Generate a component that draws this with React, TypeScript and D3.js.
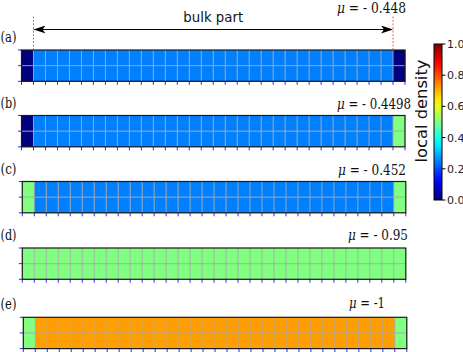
import * as d3 from 'd3';

const W = 463;
const H = 352;

// one row per panel: density in the left edge cell, the bulk cells, the right edge cell
const panelLabels = ['(a)', '(b)', '(c)', '(d)', '(e)'];
const muLabels = ['- 0.448', '- 0.4498', '- 0.452', '- 0.95', '-1'];
const leftEdge = [0.0, 0.0, 0.5, 0.5, 0.5];
const bulk = [0.25, 0.25, 0.25, 0.5, 0.72];
const rightEdge = [0.0, 0.5, 0.5, 0.5, 0.5];
const nCells = 32;
const nRows = 2;
const cbTicks = [0.0, 0.2, 0.4, 0.6, 0.8, 1.0];

// layout (px)
const panelTop = [50, 115.5, 181.5, 248, 317.3];
const panelLeft = [21.5, 21.5, 22.3, 22.3, 23.3];
const panelW = 383.5;
const panelH = 31.3;
const muX = [337, 337, 338, 348, 349];
const muY = [12.5, 109, 175, 240, 308];
const muW = [69, 74, 68, 60, 36];
const cb = { x: 434, w: 8, top: 44, bottom: 200 };

const SERIF = "'DejaVu Serif Condensed', 'DejaVu Serif', serif";
const SANS = "'DejaVu Sans', sans-serif";

// jet colormap
const clamp = (v: number) => Math.max(0, Math.min(1, v));
function jet(t: number) {
  const r = clamp(1.5 - Math.abs(4 * t - 3));
  const g = clamp(1.5 - Math.abs(4 * t - 2));
  const b = clamp(1.5 - Math.abs(4 * t - 1));
  return d3.rgb(r * 255, g * 255, b * 255).formatHex();
}

function cellValue(p: number, i: number) {
  if (i === 0) return leftEdge[p];
  if (i === nCells - 1) return rightEdge[p];
  return bulk[p];
}

function Panel({ p }: { p: number }) {
  const x = d3.scaleLinear().domain([0, nCells]).range([panelLeft[p], panelLeft[p] + panelW]);
  const y = d3.scaleLinear().domain([0, nRows]).range([panelTop[p], panelTop[p] + panelH]);
  const cells = d3.range(nRows).flatMap((r) => d3.range(nCells).map((i) => ({ r, i })));
  return (
    <g>
      {cells.map(({ r, i }) => (
        <rect
          key={`${r}-${i}`}
          x={x(i)}
          y={y(r)}
          width={x(i + 1) - x(i) + 0.3}
          height={y(r + 1) - y(r) + 0.3}
          fill={jet(cellValue(p, i))}
        />
      ))}
      {d3.range(1, nCells).map((i) => (
        <line key={`g${i}`} x1={x(i)} x2={x(i)} y1={y(0)} y2={y(nRows)} stroke="#a8a8a8" strokeOpacity={0.9} strokeWidth={1} />
      ))}
      <line x1={x(0)} x2={x(nCells)} y1={y(1)} y2={y(1)} stroke="#a8a8a8" strokeOpacity={0.9} />
      {d3.range(0, nCells + 1).map((i) => (
        <line key={`t${i}`} x1={x(i)} x2={x(i)} y1={y(nRows)} y2={y(nRows) + 3.5} stroke="#2b2bf0" strokeWidth={1} />
      ))}
      {d3.range(0, nRows + 1).map((r) => (
        <line key={`l${r}`} x1={x(0) - 3.5} x2={x(0)} y1={y(r)} y2={y(r)} stroke="#2b2bf0" strokeWidth={1} />
      ))}
      <rect x={x(0)} y={y(0)} width={panelW} height={panelH} fill="none" stroke="#1a1a1a" strokeWidth={1.2} />
      <text x={0.5} y={panelTop[p] - 8} textLength={16} lengthAdjust="spacingAndGlyphs" style={{ fontFamily: SERIF, fontSize: 14.5 }} fill="#111">
        {panelLabels[p]}
      </text>
      <text x={muX[p]} y={muY[p]} textLength={muW[p]} lengthAdjust="spacingAndGlyphs" style={{ fontFamily: SERIF, fontSize: 14.5 }} fill="#111">
        <tspan fontStyle="italic">μ</tspan>
        {` = ${muLabels[p]}`}
      </text>
    </g>
  );
}

function App() {
  const xa = d3.scaleLinear().domain([0, nCells]).range([panelLeft[0], panelLeft[0] + panelW]);
  const bulkL = xa(1);
  const bulkR = xa(nCells - 1);
  const arrowY = 29.5;
  const cbY = d3.scaleLinear().domain([0, 1]).range([cb.bottom, cb.top]);
  const stops = d3.range(0, 1.0001, 0.05);

  return (
    <svg width={W} height={H} style={{ position: 'absolute', left: 0, top: 0, background: '#fff' }}>
      <defs>
        <linearGradient id="jetGrad" x1="0" y1="1" x2="0" y2="0">
          {stops.map((s) => (
            <stop key={s} offset={s} stopColor={jet(s)} />
          ))}
        </linearGradient>
        <marker id="ah" viewBox="0 0 12 8" refX="11" refY="4" markerWidth="12" markerHeight="8" markerUnits="userSpaceOnUse" orient="auto-start-reverse">
          <path d="M0,0 L12,4 L0,8 L3,4 Z" fill="#000" />
        </marker>
      </defs>

      {panelLabels.map((_, p) => (
        <Panel key={p} p={p} />
      ))}

      {/* bulk part annotation */}
      {[bulkL, bulkR].map((xv, k) => (
        <line key={k} x1={xv} x2={xv} y1={16.5} y2={panelTop[0]} stroke="#ff3030" strokeOpacity={0.8} strokeDasharray="2,1.5" strokeWidth={1} />
      ))}
      <line x1={bulkL + 1} x2={bulkR - 1} y1={arrowY} y2={arrowY} stroke="#000" strokeWidth={1.1} markerStart="url(#ah)" markerEnd="url(#ah)" />
      <text x={(bulkL + bulkR) / 2} y={21.5} textAnchor="middle" fontFamily={SANS} fontSize={13.3} fill="#111">
        bulk part
      </text>

      {/* colorbar */}
      <rect x={cb.x} y={cb.top} width={cb.w} height={cb.bottom - cb.top} fill="url(#jetGrad)" stroke="#000" strokeWidth={1} />
      {cbTicks.map((t) => (
        <g key={t}>
          <line x1={cb.x + cb.w} x2={cb.x + cb.w + 3.5} y1={cbY(t)} y2={cbY(t)} stroke="#000" />
          <text x={cb.x + cb.w + 5} y={cbY(t) + 4} fontFamily={SANS} fontSize={11} fill="#222">
            {t.toFixed(1)}
          </text>
        </g>
      ))}
      <text
        transform={`translate(427,${(cb.top + cb.bottom) / 2 - 11}) rotate(-90)`}
        textAnchor="middle"
        fontFamily={SANS}
        fontSize={16.3}
        fill="#111"
      >
        local density
      </text>
    </svg>
  );
}

export default App;
